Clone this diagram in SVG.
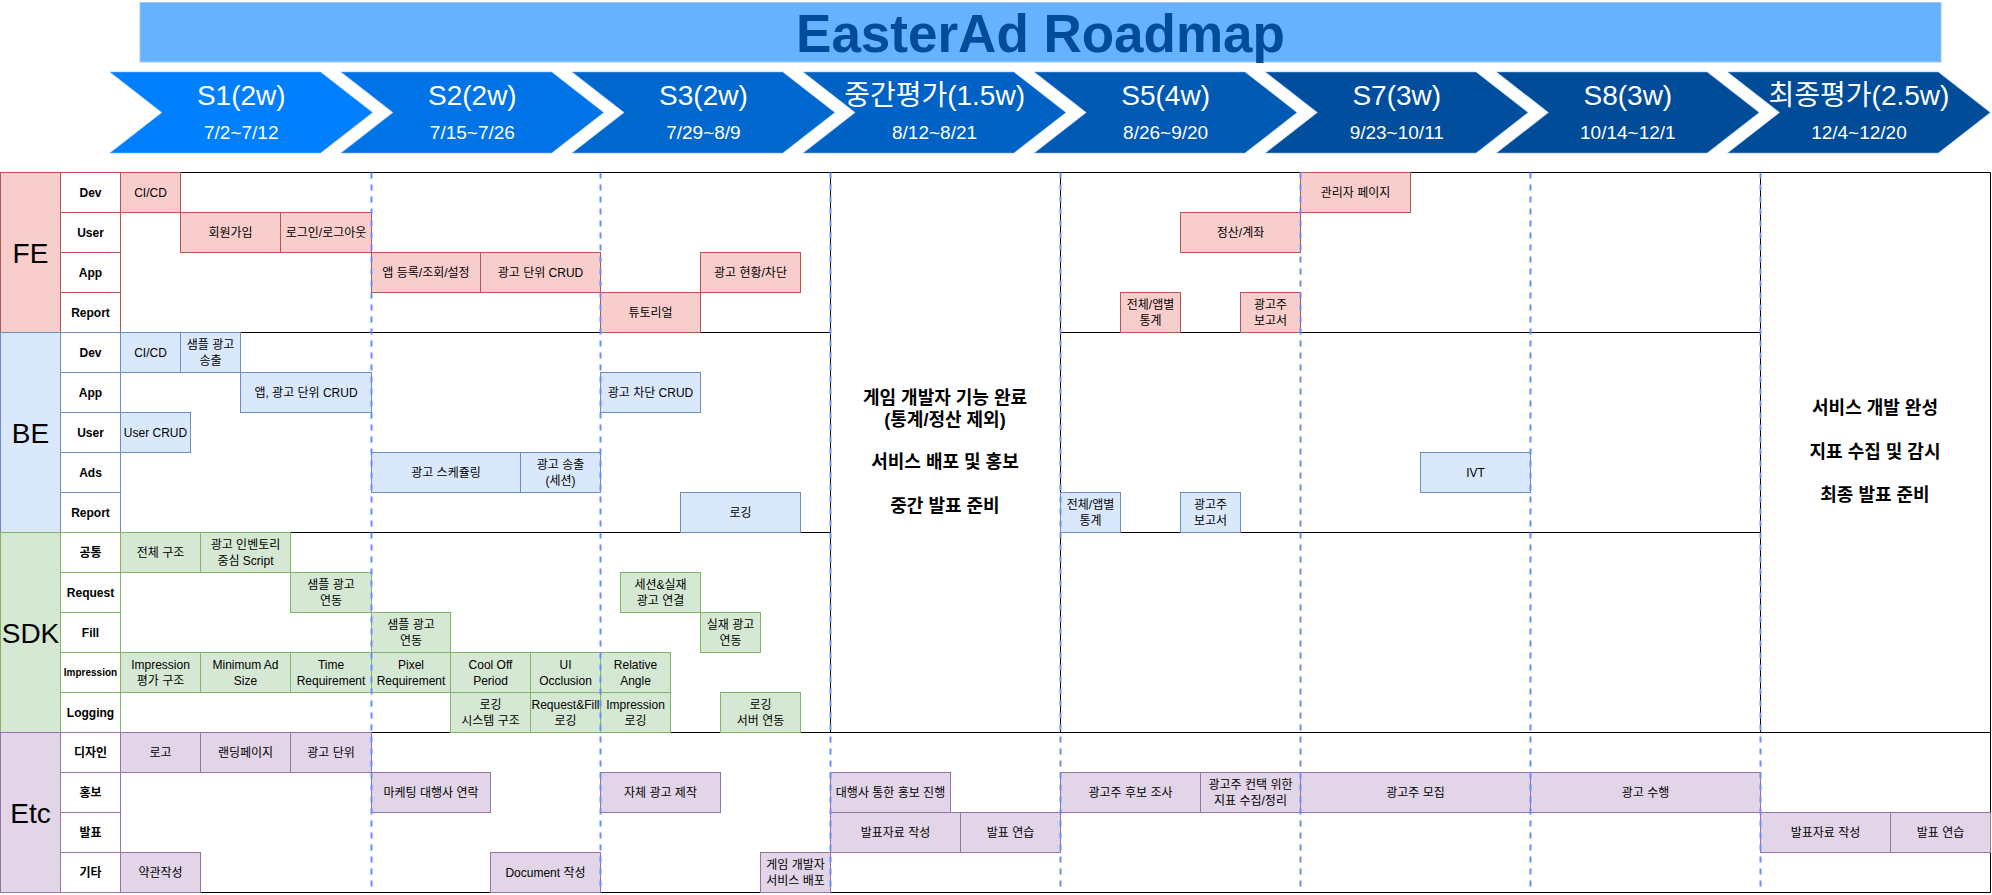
<svg xmlns="http://www.w3.org/2000/svg" width="1992" height="895" viewBox="0 0 1992 895">
<style>
text{font-family:'Liberation Sans','Noto Sans CJK KR',sans-serif;text-anchor:middle;fill:#000}
.c{font-size:12px}
.sl{font-size:12px;font-weight:bold}
.sls{font-size:10px;font-weight:bold}
.gl{font-size:28px}
.ct{font-size:28px;fill:#fff}
.cd{font-size:19px;fill:#fff}
.mid{font-size:18px;font-weight:bold}
.title{font-size:53px;font-weight:bold;fill:#004C99}
.fe{fill:#f8cecc;stroke:#b85450}
.be{fill:#dae8fc;stroke:#6c8ebf}
.sdk{fill:#d5e8d4;stroke:#82b366}
.etc{fill:#e1d5e7;stroke:#9673a6}
.w{fill:#fff}
.grid{stroke:#000;stroke-width:1;fill:none}
.dash{stroke:#6a8cff;stroke-width:2;stroke-dasharray:6 6;fill:none}
.chev{stroke:#7fb0f0;stroke-width:1;stroke-opacity:0.6}
</style>
<rect x="0" y="0" width="1992" height="895" fill="#fff"/>

<g id="title">
<rect x="140" y="2.5" width="1801" height="59.5" fill="#66B2FF" stroke="#A0C8F0"/>
<text class="title" x="1040.5" y="52">EasterAd Roadmap</text>
</g>

<g id="sprints">
<g id="s1"><polygon class="chev" fill="#007FFF" points="110,72 320.5,72 372.5,112.5 320.5,153 110,153 162,112.5"/><text class="ct" x="241.25" y="105">S1(2w)</text><text class="cd" x="241.25" y="139">7/2~7/12</text></g>
<g id="s2"><polygon class="chev" fill="#0073E6" points="341.1,72 551.6,72 603.6,112.5 551.6,153 341.1,153 393.1,112.5"/><text class="ct" x="472.35" y="105">S2(2w)</text><text class="cd" x="472.35" y="139">7/15~7/26</text></g>
<g id="s3"><polygon class="chev" fill="#0067CE" points="572.2,72 782.7,72 834.7,112.5 782.7,153 572.2,153 624.2,112.5"/><text class="ct" x="703.45" y="105">S3(2w)</text><text class="cd" x="703.45" y="139">7/29~8/9</text></g>
<g id="s-mid"><polygon class="chev" fill="#0062C4" points="803.3,72 1013.8,72 1065.8,112.5 1013.8,153 803.3,153 855.3,112.5"/><text class="ct" x="934.55" y="105">중간평가(1.5w)</text><text class="cd" x="934.55" y="139">8/12~8/21</text></g>
<g id="s5"><polygon class="chev" fill="#0059B3" points="1034.4,72 1244.9,72 1296.9,112.5 1244.9,153 1034.4,153 1086.4,112.5"/><text class="ct" x="1165.65" y="105">S5(4w)</text><text class="cd" x="1165.65" y="139">8/26~9/20</text></g>
<g id="s7"><polygon class="chev" fill="#004E9D" points="1265.5,72 1476,72 1528,112.5 1476,153 1265.5,153 1317.5,112.5"/><text class="ct" x="1396.75" y="105">S7(3w)</text><text class="cd" x="1396.75" y="139">9/23~10/11</text></g>
<g id="s8"><polygon class="chev" fill="#004C99" points="1496.6,72 1707.1,72 1759.1,112.5 1707.1,153 1496.6,153 1548.6,112.5"/><text class="ct" x="1627.85" y="105">S8(3w)</text><text class="cd" x="1627.85" y="139">10/14~12/1</text></g>
<g id="s-final"><polygon class="chev" fill="#004C99" points="1727.7,72 1938.2,72 1990.2,112.5 1938.2,153 1727.7,153 1779.7,112.5"/><text class="ct" x="1858.95" y="105">최종평가(2.5w)</text><text class="cd" x="1858.95" y="139">12/4~12/20</text></g>
</g>

<g transform="translate(0.5,0.5)">
<g id="grid" class="grid">
<path d="M120,172 H1990 M120,892 H1990 M1990,172 V892 M120,332 H830 M1060,332 H1760 M120,532 H830 M1060,532 H1760 M120,732 H1990 M830,172 V732 M1060,172 V732 M1760,172 V732"/>
</g>

<g id="group-labels">
<g id="fe-label"><rect class="fe" x="0" y="172" width="60" height="160"/><text class="gl" x="30" y="262">FE</text></g>
<g id="be-label"><rect class="be" x="0" y="332" width="60" height="200"/><text class="gl" x="30" y="442">BE</text></g>
<g id="sdk-label"><rect class="sdk" x="0" y="532" width="60" height="200"/><text class="gl" x="30" y="642">SDK</text></g>
<g id="etc-label"><rect class="etc" x="0" y="732" width="60" height="160"/><text class="gl" x="30" y="822">Etc</text></g>
</g>

<g id="row-labels">
<g id="fe-dev"><rect class="w" stroke="#b85450" x="60" y="172" width="60" height="40"/><text class="sl" x="90" y="196">Dev</text></g>
<g id="fe-user"><rect class="w" stroke="#b85450" x="60" y="212" width="60" height="40"/><text class="sl" x="90" y="236">User</text></g>
<g id="fe-app"><rect class="w" stroke="#b85450" x="60" y="252" width="60" height="40"/><text class="sl" x="90" y="276">App</text></g>
<g id="fe-report"><rect class="w" stroke="#b85450" x="60" y="292" width="60" height="40"/><text class="sl" x="90" y="316">Report</text></g>
<g id="be-dev"><rect class="w" stroke="#6c8ebf" x="60" y="332" width="60" height="40"/><text class="sl" x="90" y="356">Dev</text></g>
<g id="be-app"><rect class="w" stroke="#6c8ebf" x="60" y="372" width="60" height="40"/><text class="sl" x="90" y="396">App</text></g>
<g id="be-user"><rect class="w" stroke="#6c8ebf" x="60" y="412" width="60" height="40"/><text class="sl" x="90" y="436">User</text></g>
<g id="be-ads"><rect class="w" stroke="#6c8ebf" x="60" y="452" width="60" height="40"/><text class="sl" x="90" y="476">Ads</text></g>
<g id="be-report"><rect class="w" stroke="#6c8ebf" x="60" y="492" width="60" height="40"/><text class="sl" x="90" y="516">Report</text></g>
<g id="sdk-common"><rect class="w" stroke="#82b366" x="60" y="532" width="60" height="40"/><text class="sl" x="90" y="556">공통</text></g>
<g id="sdk-request"><rect class="w" stroke="#82b366" x="60" y="572" width="60" height="40"/><text class="sl" x="90" y="596">Request</text></g>
<g id="sdk-fill"><rect class="w" stroke="#82b366" x="60" y="612" width="60" height="40"/><text class="sl" x="90" y="636">Fill</text></g>
<g id="sdk-impression"><rect class="w" stroke="#82b366" x="60" y="652" width="60" height="40"/><text class="sls" x="90" y="675.5">Impression</text></g>
<g id="sdk-logging"><rect class="w" stroke="#82b366" x="60" y="692" width="60" height="40"/><text class="sl" x="90" y="716">Logging</text></g>
<g id="etc-design"><rect class="w" stroke="#9673a6" x="60" y="732" width="60" height="40"/><text class="sl" x="90" y="756">디자인</text></g>
<g id="etc-pr"><rect class="w" stroke="#9673a6" x="60" y="772" width="60" height="40"/><text class="sl" x="90" y="796">홍보</text></g>
<g id="etc-pres"><rect class="w" stroke="#9673a6" x="60" y="812" width="60" height="40"/><text class="sl" x="90" y="836">발표</text></g>
<g id="etc-misc"><rect class="w" stroke="#9673a6" x="60" y="852" width="60" height="40"/><text class="sl" x="90" y="876">기타</text></g>
</g>

<g id="fe-tasks">
<g id="fe-dev-cicd"><rect class="fe" x="120" y="172" width="60" height="40"/><text class="c" x="150" y="196">CI/CD</text></g>
<g id="fe-dev-admin"><rect class="fe" x="1300" y="172" width="110" height="40"/><text class="c" x="1355" y="196">관리자 페이지</text></g>
<g id="fe-user-signup"><rect class="fe" x="180" y="212" width="100" height="40"/><text class="c" x="230" y="236">회원가입</text></g>
<g id="fe-user-login"><rect class="fe" x="280" y="212" width="91" height="40"/><text class="c" x="325.5" y="236">로그인/로그아웃</text></g>
<g id="fe-user-settle"><rect class="fe" x="1180" y="212" width="120" height="40"/><text class="c" x="1240" y="236">정산/계좌</text></g>
<g id="fe-app-reg"><rect class="fe" x="371" y="252" width="109" height="40"/><text class="c" x="425.5" y="276">앱 등록/조회/설정</text></g>
<g id="fe-app-adunit"><rect class="fe" x="480" y="252" width="120" height="40"/><text class="c" x="540" y="276">광고 단위 CRUD</text></g>
<g id="fe-app-status"><rect class="fe" x="700" y="252" width="100" height="40"/><text class="c" x="750" y="276">광고 현황/차단</text></g>
<g id="fe-rep-tutorial"><rect class="fe" x="600" y="292" width="100" height="40"/><text class="c" x="650" y="316">튜토리얼</text></g>
<g id="fe-rep-stats"><rect class="fe" x="1120" y="292" width="60" height="40"/><text class="c" x="1150" y="308.5">전체/앱별<tspan x="1150" y="324">통계</tspan></text></g>
<g id="fe-rep-advreport"><rect class="fe" x="1240" y="292" width="60" height="40"/><text class="c" x="1270" y="308.5">광고주<tspan x="1270" y="324">보고서</tspan></text></g>
</g>

<g id="be-tasks">
<g id="be-dev-cicd"><rect class="be" x="120" y="332" width="60" height="40"/><text class="c" x="150" y="356">CI/CD</text></g>
<g id="be-dev-sample"><rect class="be" x="180" y="332" width="60" height="40"/><text class="c" x="210" y="348.5">샘플 광고<tspan x="210" y="364">송출</tspan></text></g>
<g id="be-app-crud"><rect class="be" x="240" y="372" width="131" height="40"/><text class="c" x="305.5" y="396">앱, 광고 단위 CRUD</text></g>
<g id="be-app-block"><rect class="be" x="600" y="372" width="100" height="40"/><text class="c" x="650" y="396">광고 차단 CRUD</text></g>
<g id="be-user-crud"><rect class="be" x="120" y="412" width="70" height="40"/><text class="c" x="155" y="436">User CRUD</text></g>
<g id="be-ads-sched"><rect class="be" x="371" y="452" width="149" height="40"/><text class="c" x="445.5" y="476">광고 스케쥴링</text></g>
<g id="be-ads-serve"><rect class="be" x="520" y="452" width="80" height="40"/><text class="c" x="560" y="468.5">광고 송출<tspan x="560" y="484">(세션)</tspan></text></g>
<g id="be-ads-ivt"><rect class="be" x="1420" y="452" width="110" height="40"/><text class="c" x="1475" y="476">IVT</text></g>
<g id="be-rep-logging"><rect class="be" x="680" y="492" width="120" height="40"/><text class="c" x="740" y="516">로깅</text></g>
<g id="be-rep-stats"><rect class="be" x="1060" y="492" width="60" height="40"/><text class="c" x="1090" y="508.5">전체/앱별<tspan x="1090" y="524">통계</tspan></text></g>
<g id="be-rep-advreport"><rect class="be" x="1180" y="492" width="60" height="40"/><text class="c" x="1210" y="508.5">광고주<tspan x="1210" y="524">보고서</tspan></text></g>
</g>

<g id="sdk-tasks">
<g id="sdk-common-arch"><rect class="sdk" x="120" y="532" width="80" height="40"/><text class="c" x="160" y="556">전체 구조</text></g>
<g id="sdk-common-script"><rect class="sdk" x="200" y="532" width="90" height="40"/><text class="c" x="245" y="548.5">광고 인벤토리<tspan x="245" y="564">중심 Script</tspan></text></g>
<g id="sdk-req-sample"><rect class="sdk" x="290" y="572" width="81" height="40"/><text class="c" x="330.5" y="588.5">샘플 광고<tspan x="330.5" y="604">연동</tspan></text></g>
<g id="sdk-req-real"><rect class="sdk" x="620" y="572" width="80" height="40"/><text class="c" x="660" y="588.5">세션&amp;실재<tspan x="660" y="604">광고 연결</tspan></text></g>
<g id="sdk-fill-sample"><rect class="sdk" x="371" y="612" width="79" height="40"/><text class="c" x="410.5" y="628.5">샘플 광고<tspan x="410.5" y="644">연동</tspan></text></g>
<g id="sdk-fill-real"><rect class="sdk" x="700" y="612" width="60" height="40"/><text class="c" x="730" y="628.5">실재 광고<tspan x="730" y="644">연동</tspan></text></g>
<g id="sdk-imp-struct"><rect class="sdk" x="120" y="652" width="80" height="40"/><text class="c" x="160" y="668.5">Impression<tspan x="160" y="684">평가 구조</tspan></text></g>
<g id="sdk-imp-minsize"><rect class="sdk" x="200" y="652" width="90" height="40"/><text class="c" x="245" y="668.5">Minimum Ad<tspan x="245" y="684">Size</tspan></text></g>
<g id="sdk-imp-time"><rect class="sdk" x="290" y="652" width="81" height="40"/><text class="c" x="330.5" y="668.5">Time<tspan x="330.5" y="684">Requirement</tspan></text></g>
<g id="sdk-imp-pixel"><rect class="sdk" x="371" y="652" width="79" height="40"/><text class="c" x="410.5" y="668.5">Pixel<tspan x="410.5" y="684">Requirement</tspan></text></g>
<g id="sdk-imp-cool"><rect class="sdk" x="450" y="652" width="80" height="40"/><text class="c" x="490" y="668.5">Cool Off<tspan x="490" y="684">Period</tspan></text></g>
<g id="sdk-imp-ui"><rect class="sdk" x="530" y="652" width="70" height="40"/><text class="c" x="565" y="668.5">UI<tspan x="565" y="684">Occlusion</tspan></text></g>
<g id="sdk-imp-angle"><rect class="sdk" x="600" y="652" width="70" height="40"/><text class="c" x="635" y="668.5">Relative<tspan x="635" y="684">Angle</tspan></text></g>
<g id="sdk-log-sys"><rect class="sdk" x="450" y="692" width="80" height="40"/><text class="c" x="490" y="708.5">로깅<tspan x="490" y="724">시스템 구조</tspan></text></g>
<g id="sdk-log-rf"><rect class="sdk" x="530" y="692" width="70" height="40"/><text class="c" x="565" y="708.5">Request&amp;Fill<tspan x="565" y="724">로깅</tspan></text></g>
<g id="sdk-log-imp"><rect class="sdk" x="600" y="692" width="70" height="40"/><text class="c" x="635" y="708.5">Impression<tspan x="635" y="724">로깅</tspan></text></g>
<g id="sdk-log-server"><rect class="sdk" x="720" y="692" width="80" height="40"/><text class="c" x="760" y="708.5">로깅<tspan x="760" y="724">서버 연동</tspan></text></g>
</g>

<g id="etc-tasks">
<g id="etc-design-logo"><rect class="etc" x="120" y="732" width="80" height="40"/><text class="c" x="160" y="756">로고</text></g>
<g id="etc-design-landing"><rect class="etc" x="200" y="732" width="90" height="40"/><text class="c" x="245" y="756">랜딩페이지</text></g>
<g id="etc-design-adunit"><rect class="etc" x="290" y="732" width="81" height="40"/><text class="c" x="330.5" y="756">광고 단위</text></g>
<g id="etc-pr-agency"><rect class="etc" x="371" y="772" width="119" height="40"/><text class="c" x="430.5" y="796">마케팅 대행사 연락</text></g>
<g id="etc-pr-own"><rect class="etc" x="600" y="772" width="120" height="40"/><text class="c" x="660" y="796">자체 광고 제작</text></g>
<g id="etc-pr-agencyrun"><rect class="etc" x="830" y="772" width="120" height="40"/><text class="c" x="890" y="796">대행사 통한 홍보 진행</text></g>
<g id="etc-pr-survey"><rect class="etc" x="1060" y="772" width="140" height="40"/><text class="c" x="1130" y="796">광고주 후보 조사</text></g>
<g id="etc-pr-metrics"><rect class="etc" x="1200" y="772" width="100" height="40"/><text class="c" x="1250" y="788.5">광고주 컨택 위한<tspan x="1250" y="804">지표 수집/정리</tspan></text></g>
<g id="etc-pr-recruit"><rect class="etc" x="1300" y="772" width="230" height="40"/><text class="c" x="1415" y="796">광고주 모집</text></g>
<g id="etc-pr-run"><rect class="etc" x="1530" y="772" width="230" height="40"/><text class="c" x="1645" y="796">광고 수행</text></g>
<g id="etc-pres-mid-doc"><rect class="etc" x="830" y="812" width="130" height="40"/><text class="c" x="895" y="836">발표자료 작성</text></g>
<g id="etc-pres-mid-prac"><rect class="etc" x="960" y="812" width="100" height="40"/><text class="c" x="1010" y="836">발표 연습</text></g>
<g id="etc-pres-fin-doc"><rect class="etc" x="1760" y="812" width="130" height="40"/><text class="c" x="1825" y="836">발표자료 작성</text></g>
<g id="etc-pres-fin-prac"><rect class="etc" x="1890" y="812" width="100" height="40"/><text class="c" x="1940" y="836">발표 연습</text></g>
<g id="etc-misc-terms"><rect class="etc" x="120" y="852" width="80" height="40"/><text class="c" x="160" y="876">약관작성</text></g>
<g id="etc-misc-doc"><rect class="etc" x="490" y="852" width="110" height="40"/><text class="c" x="545" y="876">Document 작성</text></g>
<g id="etc-misc-deploy"><rect class="etc" x="760" y="852" width="70" height="40"/><text class="c" x="795" y="868.5">게임 개발자<tspan x="795" y="884">서비스 배포</tspan></text></g>
</g>

<g id="sprint-dividers" class="dash">
<path d="M371,172 V892 M600,172 V892 M830,172 V892 M1060,172 V892 M1300,172 V892 M1530,172 V892 M1760,172 V892"/>
</g>
</g>

<g id="mid-eval-note">
<text class="mid" x="945" y="403.5">게임 개발자 기능 완료</text>
<text class="mid" x="945" y="425.5">(통계/정산 제외)</text>
<text class="mid" x="945" y="468">서비스 배포 및 홍보</text>
<text class="mid" x="945" y="511.5">중간 발표 준비</text>
</g>
<g id="final-eval-note">
<text class="mid" x="1875" y="413.5">서비스 개발 완성</text>
<text class="mid" x="1875" y="457.5">지표 수집 및 감시</text>
<text class="mid" x="1875" y="500.5">최종 발표 준비</text>
</g>
</svg>
